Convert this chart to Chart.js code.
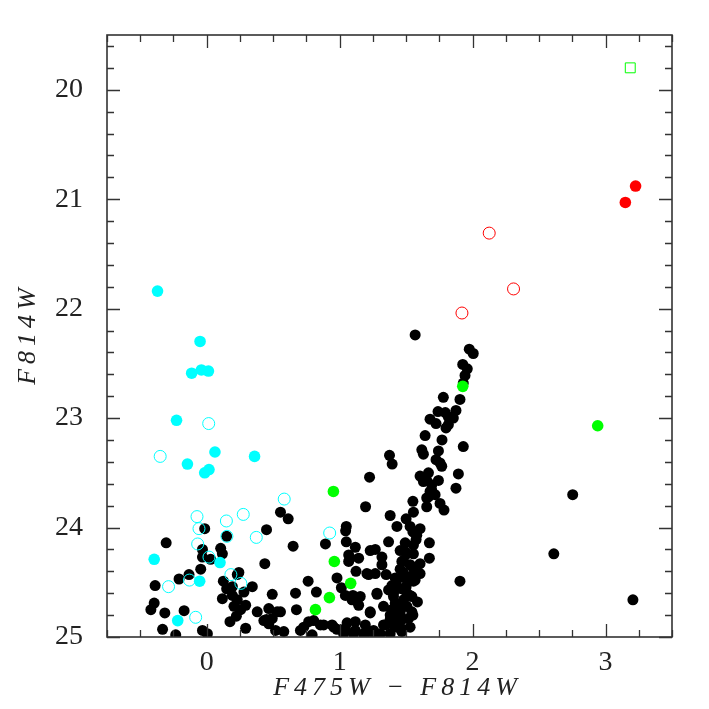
<!DOCTYPE html>
<html><head><meta charset="utf-8">
<script src="https://cdn.jsdelivr.net/npm/chart.js@4.4.1/dist/chart.umd.min.js"></script>
<style>html,body{margin:0;padding:0;background:#fff;} #wrap{width:709px;height:709px;}</style>
</head><body><div id="wrap"><canvas id="c" width="709" height="709"></canvas></div>
<script>
// ---- data (colour F475W-F814W, magnitude F814W) ----
const xTickValues = [0, 1, 2, 3];
const yTickValues = [20, 21, 22, 23, 24, 25];
const xTitle = 'F475W \u2212 F814W';
const yTitle = 'F814W';

const blackColor = [
 1.568,1.975,2.005,1.926,1.960,1.943,1.930,1.905,1.780,1.875,
 1.740,1.795,1.818,1.855,1.680,1.725,1.818,1.800,1.643,1.770,
 1.930,1.618,1.743,1.375,1.630,1.395,1.725,1.755,1.768,1.893,
 1.605,1.668,1.655,1.743,1.693,1.875,1.680,1.718,1.655,1.551,
 1.755,1.655,1.555,1.785,1.380,1.500,1.225,1.630,1.693,1.668,
 1.195,
 1.431,1.530,1.551,1.605,1.575,1.675,1.675,1.368,1.050,1.045,
 1.050,0.893,0.650,1.118,1.230,1.268,1.143,1.080,1.318,1.318,
 1.123,1.218,1.268,1.350,1.455,1.506,1.480,1.605,1.555,1.455,
 1.500,1.418,1.555,1.431,1.405,1.500,1.530,1.480,1.418,1.506,
 1.443,1.551,1.380,1.905,0.980,1.013,1.043,1.100,1.155,1.143,
 1.281,1.230,0.668,0.825,0.675,0.555,0.767,0.730,0.880,0.955,
 1.056,1.118,1.193,1.043,1.118,1.218,1.330,1.393,1.455,1.530,
 1.380,0.580,0.793,1.268,
 -0.305,-0.032,0.105,0.118,0.150,0.450,0.613,0.555,1.068,1.068,
 -0.032,0.030,-0.045,-0.133,-0.208,-0.388,0.125,0.230,0.150,0.193,
 0.118,0.193,0.230,0.280,0.343,0.293,0.205,0.255,0.437,0.493,
 0.380,0.467,0.530,0.493,0.467,0.518,0.430,0.763,-0.395,-0.420,
 -0.315,-0.170,-0.233,-0.332,-0.032,0.005,0.175,0.293,0.705,0.805,
 0.855,0.980,1.180,1.255,1.431,-0.015,0.242,0.223,0.450,
 2.611,3.206,2.753,1.585,1.555,
 1.493,1.555,1.468,1.530,1.568,1.480,1.431,1.393,1.468,1.506,
 1.543,1.405,1.431,1.493,1.393,1.455,1.380,1.468,1.518,1.431,
 1.468,1.343,1.330,1.230,1.281,1.093,1.205,0.943,1.305,1.105,
 1.030,
 1.405,1.368,1.506,1.431,1.543,1.493,1.580,1.555,1.605
];
const blackMag = [
 22.24,22.37,22.41,22.51,22.55,22.61,22.68,22.83,22.81,22.93,
 22.94,22.95,22.99,23.00,23.01,23.05,23.06,23.09,23.16,23.20,
 23.26,23.29,23.30,23.34,23.33,23.42,23.38,23.41,23.44,23.51,
 23.53,23.50,23.57,23.57,23.61,23.64,23.67,23.70,23.73,23.76,
 23.78,23.81,23.86,23.84,23.89,23.92,23.54,23.58,23.66,23.72,
 23.81,
 23.99,23.99,24.04,24.01,24.11,24.14,24.28,24.13,23.99,24.03,
 24.13,24.15,24.17,24.18,24.21,24.20,24.28,24.28,24.27,24.34,
 24.40,24.43,24.42,24.43,24.21,24.24,24.30,24.33,24.37,24.38,
 24.45,24.46,24.43,24.54,24.60,24.54,24.62,24.66,24.69,24.72,
 24.77,24.80,24.80,24.49,24.46,24.55,24.62,24.62,24.63,24.71,
 24.61,24.78,24.60,24.59,24.75,24.77,24.86,24.91,24.89,24.91,
 24.87,24.86,24.89,24.92,24.94,24.95,24.89,24.88,24.91,24.91,
 24.97,24.95,24.98,24.98,
 24.14,24.20,24.19,24.24,24.08,24.02,23.92,23.86,24.25,24.31,
 24.27,24.29,24.38,24.43,24.47,24.53,24.49,24.43,24.56,24.54,
 24.65,24.62,24.66,24.59,24.54,24.71,24.72,24.75,24.33,24.61,
 24.77,24.74,24.77,24.83,24.88,24.94,24.85,24.49,24.69,24.75,
 24.78,24.76,24.98,24.93,24.94,24.97,24.86,24.92,24.94,24.85,
 24.89,24.93,24.97,24.94,24.78,24.01,24.41,24.81,24.84,
 24.24,24.66,23.70,24.68,24.49,
 24.22,24.24,24.31,24.34,24.48,24.41,24.48,24.53,24.56,24.60,
 24.63,24.63,24.71,24.72,24.75,24.78,24.84,24.84,24.83,24.91,
 24.95,24.89,24.72,24.77,24.60,24.66,24.42,24.89,24.97,24.97,
 24.97,
 24.89,24.57,24.48,24.82,24.77,24.14,24.07,24.16,24.42
];

const cyanFilledColor = [-0.370,-0.050,-0.113,-0.040,0.013,-0.227,0.062,0.360,-0.145,0.017,-0.015,-0.395,0.100,-0.053,-0.218];
const cyanFilledMag   = [21.84,22.30,22.59,22.56,22.57,23.02,23.31,23.35,23.42,23.47,23.50,24.29,24.32,24.49,24.85];

const cyanOpenColor = [0.015,-0.350,0.583,-0.073,0.148,0.275,-0.058,0.152,0.373,-0.068,0.017,0.182,0.257,-0.130,-0.287,-0.083,0.925];
const cyanOpenMag   = [23.05,23.35,23.74,23.90,23.94,23.88,24.01,24.08,24.09,24.15,24.27,24.43,24.51,24.48,24.54,24.82,24.05];

const greenFilledColor = [0.953,0.960,1.083,0.923,0.818,1.926,2.941];
const greenFilledMag   = [23.67,24.31,24.51,24.64,24.75,22.71,23.07];

const greenSquareColor = [3.186];
const greenSquareMag   = [19.80];

const redFilledColor = [3.226,3.149];
const redFilledMag   = [20.88,21.03];

const redOpenColor = [2.125,2.308,1.920];
const redOpenMag   = [21.31,21.82,22.04];

const pts = (xs, ys) => xs.map((v, i) => ({x: v, y: ys[i]}));

const frameTicks = {
  id: 'frameTicks',
  afterDraw(chart) {
    const {ctx, chartArea: a, scales: {x, y}} = chart;
    ctx.save();
    ctx.strokeStyle = '#333';
    ctx.lineWidth = 1.6;
    ctx.strokeRect(a.left, a.top, a.right - a.left, a.bottom - a.top);
    ctx.lineWidth = 1.3;
    ctx.beginPath();
    for (let i = Math.ceil(x.min / 0.25 - 1e-9); i * 0.25 <= x.max + 1e-9; i++) {
      const v = i * 0.25;
      const px = Math.round(x.getPixelForValue(v)) + 0.5;
      const len = (i % 4 === 0) ? 13 : 7;
      ctx.moveTo(px, a.bottom); ctx.lineTo(px, a.bottom - len);
      ctx.moveTo(px, a.top); ctx.lineTo(px, a.top + len);
    }
    for (let i = Math.ceil(y.min / 0.2 - 1e-9); i * 0.2 <= y.max + 1e-9; i++) {
      const v = i * 0.2;
      const py = Math.round(y.getPixelForValue(v)) + 0.5;
      const len = (i % 5 === 0) ? 13 : 7;
      ctx.moveTo(a.left, py); ctx.lineTo(a.left + len, py);
      ctx.moveTo(a.right, py); ctx.lineTo(a.right - len, py);
    }
    ctx.stroke();
    // axis titles
    ctx.fillStyle = '#222';
    ctx.font = 'italic 26px "Liberation Serif"';
    ctx.letterSpacing = '5px';
    ctx.textAlign = 'center';
    ctx.textBaseline = 'middle';
    ctx.fillText(xTitle, (a.left + a.right) / 2 + 8, 688);
    ctx.translate(28, (a.top + a.bottom) / 2);
    ctx.rotate(-Math.PI / 2);
    ctx.fillText(yTitle, 2, 0);
    ctx.restore();
  }
};

const tickFont = {family: '"Liberation Serif"', size: 28};

new Chart(document.getElementById('c'), {
  type: 'scatter',
  data: {
    datasets: [
      {data: pts(blackColor, blackMag), backgroundColor: '#000', borderWidth: 0, pointRadius: 5.5, order: 10},
      {data: pts(cyanFilledColor, cyanFilledMag), backgroundColor: '#00ffff', borderWidth: 0, pointRadius: 5.8, order: 1},
      {data: pts(cyanOpenColor, cyanOpenMag), backgroundColor: 'rgba(0,0,0,0)', borderColor: '#00ffff', borderWidth: 1, pointRadius: 6, order: 1},
      {data: pts(greenFilledColor, greenFilledMag), backgroundColor: '#00ff00', borderWidth: 0, pointRadius: 5.8, order: 1},
      {data: pts(greenSquareColor, greenSquareMag), backgroundColor: 'rgba(0,0,0,0)', borderColor: '#00ff00', borderWidth: 1, pointStyle: 'rect', pointRadius: 7, order: 1},
      {data: pts(redFilledColor, redFilledMag), backgroundColor: '#ff0000', borderWidth: 0, pointRadius: 5.8, order: 1},
      {data: pts(redOpenColor, redOpenMag), backgroundColor: 'rgba(0,0,0,0)', borderColor: '#ff0000', borderWidth: 1, pointRadius: 6, order: 1}
    ]
  },
  options: {
    responsive: false,
    animation: false,
    events: [],
    layout: {padding: {top: 35, right: 37, left: 0, bottom: 0}},
    plugins: {legend: {display: false}, tooltip: {enabled: false}},
    scales: {
      x: {
        type: 'linear', min: -0.75, max: 3.5,
        grid: {display: false, drawTicks: false},
        border: {display: false},
        ticks: {padding: 9, font: tickFont, color: '#222', maxRotation: 0, autoSkip: false},
        afterBuildTicks: s => { s.ticks = xTickValues.map(v => ({value: v})); },
        afterFit: s => { s.height = 72; s.paddingLeft = 0; s.paddingRight = 0; }
      },
      y: {
        type: 'linear', min: 19.5, max: 25, reverse: true,
        grid: {display: false, drawTicks: false},
        border: {display: false},
        ticks: {padding: 24, font: tickFont, color: '#222', autoSkip: false},
        afterBuildTicks: s => { s.ticks = yTickValues.map(v => ({value: v})); },
        afterFit: s => { s.width = 107; s.paddingTop = 0; s.paddingBottom = 0; }
      }
    }
  },
  plugins: [frameTicks]
});
</script>
</body></html>
